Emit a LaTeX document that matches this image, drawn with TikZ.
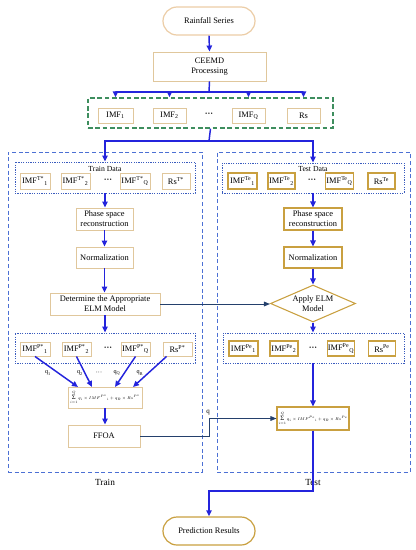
\documentclass[tikz,border=0pt]{standalone}
\usepackage{fontspec}
\setmainfont{Liberation Serif}
\usepackage{graphicx}
\usetikzlibrary{arrows.meta,shapes.geometric}
\definecolor{tanL}{HTML}{E0C79C}
\definecolor{gold}{HTML}{C9A040}
\definecolor{pillL}{HTML}{ECCDA6}
\definecolor{arrblue}{HTML}{2424DC}
\definecolor{navy}{HTML}{24406C}
\definecolor{dashblue}{HTML}{4C70D4}
\definecolor{dotblue}{HTML}{3A5CBE}
\definecolor{grn}{HTML}{3E8E5E}
\newcommand\fsz[2]{\fontsize{#1}{#2}\selectfont}
\newcommand\mydots{\textbf{···}}
\newcommand\mysum{\mathop{\hbox{\fsz{10}{10}Σ}}\limits_{i=1}^{Q}}
\begin{document}
\begin{tikzpicture}[x=0.75pt,y=-0.75pt,
  wh/.style 2 args={minimum width=#1*0.75pt, minimum height=#2*0.75pt},
  pbox/.style={draw=tanL, line width=0.7pt, fill=white, inner sep=0.5pt, align=center, font=\fsz{6.3}{7.4}},
  gbox/.style={pbox, draw=gold, line width=0.8pt},
  pill/.style={draw=#1, line width=0.9pt, fill=white, rounded corners=10.5pt, font=\fsz{6.3}{7.4}, wh={92}{28}},
  outerbox/.style={draw=dashblue, line width=0.75pt, dash pattern=on 3pt off 2pt},
  dotbox/.style={draw=dotblue, line width=0.7pt, dash pattern=on 0.9pt off 0.9pt},
  grpbox/.style={draw=grn, line width=0.9pt, dash pattern=on 3.5pt off 2pt},
  imfb/.style={pbox, wh={#1}{15}},
  imfg/.style={gbox, wh={#1}{15}},
  lbl/.style={inner sep=0pt, font=\fsz{5.8}{6.5}},
  dotsl/.style={inner sep=0pt, font=\fsz{6.3}{7}},
  ql/.style={inner sep=0pt, font=\fsz{4.6}{5}},
  blueArr/.style={draw=arrblue, line width=1.1pt, -{Triangle[length=4.5pt,width=4pt]}},
  blueLine/.style={draw=arrblue, line width=1.1pt},
  navyArr/.style={draw=navy, line width=0.75pt, -{Triangle[length=4.5pt,width=3.5pt]}}
]
\useasboundingbox (0,0) rectangle (416,550);

% containers
\node[outerbox, wh={194}{320}] (trainBox) at (105,312) {};
\node[outerbox, wh={193}{320}] (testBox) at (313.5,312) {};
\node[grpbox, wh={245}{30}] (grp) at (210.5,113) {};
\node[dotbox, wh={180}{31}] (trainData) at (105,177.5) {};
\node[dotbox, wh={182}{30}] (testData) at (313,178) {};
\node[dotbox, wh={180}{30}] (predTrain) at (105,348) {};
\node[dotbox, wh={181}{30}] (predTest) at (313.5,348) {};

% top
\node[pill=pillL] (rain) at (209,21) {Rainfall Series};
\node[pbox, wh={113}{29}] (ceemd) at (209.5,66.5) {CEEMD\\Processing};
\node[imfb=35] (imf1) at (115.5,115.5) {IMF\textsubscript{1}};
\node[imfb=33] (imf2) at (169.5,115.5) {IMF\textsubscript{2}};
\node[dotsl] (dotsA) at (209,115) {\mydots};
\node[imfb=33] (imfQ) at (248.5,115.5) {IMF\textsubscript{Q}};
\node[imfb=33] (rs) at (303.5,115.5) {Rs};

% train column
\node[lbl] (trainDataL) at (105,168.5) {Train Data};
\node[imfb=30, wh={30}{16}] (t1) at (35,181) {IMF\textsuperscript{T*}\textsubscript{1}};
\node[imfb=29, wh={29}{16}] (t2) at (75.5,181) {IMF\textsuperscript{T*}\textsubscript{2}};
\node[dotsl] (dotsT) at (108,181) {\mydots};
\node[imfb=30, wh={30}{16}] (tQ) at (135,181) {IMF\textsuperscript{T*}\textsubscript{Q}};
\node[imfb=28, wh={28}{16}] (tR) at (176,181) {Rs\textsuperscript{T*}};
\node[pbox, wh={57}{22}] (psr) at (104.5,219) {Phase space\\reconstruction};
\node[pbox, wh={57}{21}] (norm) at (104.5,257.5) {Normalization};
\node[pbox, wh={110}{22}] (det) at (105,304) {Determine the Appropriate\\ELM Model};
\node[imfb=30, wh={30}{14}] (p1) at (35,349) {IMF\textsuperscript{P*}\textsubscript{1}};
\node[imfb=29, wh={29}{14}] (p2) at (76.5,349) {IMF\textsuperscript{P*}\textsubscript{2}};
\node[dotsl] (dotsP) at (108,349) {\mydots};
\node[imfb=29, wh={29}{14}] (pQ) at (135.5,349) {IMF\textsuperscript{P*}\textsubscript{Q}};
\node[imfb=29, wh={29}{14}] (pR) at (177.5,349) {Rs\textsuperscript{P*}};
\node[ql] (q1) at (48,373) {q\textsubscript{1}};
\node[ql] (q2) at (80,373) {q\textsubscript{2}};
\node[ql] (qd) at (99,373) {···};
\node[ql] (qQ) at (117,373) {q\textsubscript{Q}};
\node[ql] (qR) at (140,373) {q\textsubscript{R}};
\node[pbox, wh={74}{21}] (formTrain) at (105,397.5) {\scalebox{0.5}{$\displaystyle\mysum q_i \times IMF^{P^*}{}_{i} + q_R \times Rs^{P^*}$}};
\node[pbox, wh={72}{22}] (ffoa) at (104,436) {FFOA};
\node[inner sep=0pt, font=\fsz{7}{8}] (trainL) at (105,482) {Train};

% test column
\node[lbl] (testDataL) at (313,169) {Test Data};
\node[imfg=29, wh={29}{16}] (e1) at (242.5,181) {IMF\textsuperscript{Te}\textsubscript{1}};
\node[imfg=27, wh={27}{16}] (e2) at (281.5,181) {IMF\textsuperscript{Te}\textsubscript{2}};
\node[dotsl] (dotsE) at (312,181) {\mydots};
\node[imfg=27, wh={27}{16}] (eQ) at (339.5,181) {IMF\textsuperscript{Te}\textsubscript{Q}};
\node[imfg=27, wh={27}{16}] (eR) at (381.5,181) {Rs\textsuperscript{Te}};
\node[gbox, wh={58}{22}] (psrT) at (313,219) {Phase space\\reconstruction};
\node[gbox, wh={58}{21}] (normT) at (313,257.5) {Normalization};
\node[diamond, draw=gold, line width=0.8pt, fill=white, inner sep=0pt, shape aspect=2.3, wh={85}{37}, align=center, font=\fsz{6.3}{7.4}] (elm) at (313,303.5) {Apply ELM\\Model};
\node[imfg=29, wh={29}{15}] (f1) at (243.5,348.5) {IMF\textsuperscript{Pe}\textsubscript{1}};
\node[imfg=28, wh={28}{15}] (f2) at (284,348.5) {IMF\textsuperscript{Pe}\textsubscript{2}};
\node[dotsl] (dotsF) at (313,348.5) {\mydots};
\node[imfg=27, wh={27}{15}] (fQ) at (341,348.5) {IMF\textsuperscript{Pe}\textsubscript{Q}};
\node[imfg=27, wh={27}{15}] (fR) at (382,348.5) {Rs\textsuperscript{Pe}};
\node[gbox, wh={72}{23}] (formTest) at (313,418.5) {\scalebox{0.5}{$\displaystyle\mysum q_i \times IMF^{Pe}{}_{i} + q_R \times Rs^{Pe}$}};
\node[inner sep=0pt, font=\fsz{7}{8}] (testL) at (313,482) {Test};

% bottom
\node[pill=gold] (pred) at (209,531) {Prediction Results};

% connectors
\draw[blueArr] (rain.south) -- (ceemd.north);
\coordinate (b1) at (209,92);
\draw[blueLine] (ceemd.south) -- (b1);
\draw[blueArr] (b1) -| (imf1 |- grp.north);
\draw[blueArr] (b1) -| (imf2 |- grp.north);
\draw[blueArr] (b1) -| (imfQ |- grp.north);
\draw[blueArr] (b1) -| (rs |- grp.north);

\coordinate (b2) at (209,141);
\draw[blueLine] (grp.south) -- (b2);
\draw[blueArr] (b2) -| (trainData.north);
\draw[blueArr] (b2) -| (testData.north);

\draw[blueArr] (trainData.south) -- (trainData.south |- psr.north);
\draw[blueArr] (psr.south) -- (norm.north);
\draw[blueArr] (norm.south) -- (norm.south |- det.north);
\draw[blueArr] (det.south) -- (det.south |- predTrain.north);

\coordinate (fa) at (78,387);
\coordinate (fb) at (92,387);
\coordinate (fc) at (115,387);
\coordinate (fd) at (133,387);
\draw[blueArr] (p1.south) -- (fa);
\draw[blueArr] (p2.south) -- (fb);
\draw[blueArr] (pQ.south) -- (fc);
\draw[blueArr] ([xshift=3pt]pR.south west) -- (fd);
\draw[blueArr] (formTrain.south) -- (formTrain.south |- ffoa.north);

\coordinate (qc) at (209,418.5);
\draw[navyArr] (ffoa.east) -| (qc) -- (formTest.west);
\node[ql, font=\fsz{5.2}{6}] (qlab) at (208,413) {q};
\draw[navyArr] (det.east) -- (det.east -| elm.west);

\draw[blueArr] (testData.south) -- (psrT.north);
\draw[blueArr] (psrT.south) -- (normT.north);
\draw[blueArr] (normT.south) -- (elm.north);
\draw[blueArr] (elm.south) -- (elm.south |- predTest.north);
\draw[blueArr] (predTest.south -| formTest.north) -- (formTest.north);

\coordinate (b3) at (313,491);
\draw[blueArr] (formTest.south) -- (b3) -| (pred.north);
\end{tikzpicture}
\end{document}
